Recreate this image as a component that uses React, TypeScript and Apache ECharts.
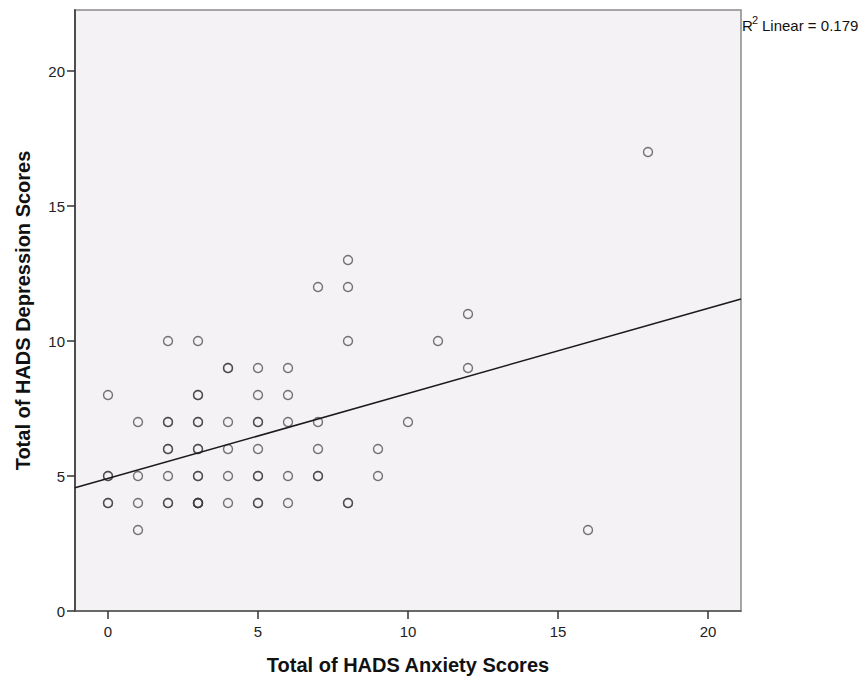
import React, { useEffect, useRef } from "react";
import * as echarts from "echarts";

// Each entry is one participant (repeated entries = overlapping points)
const anxiety: number[] = [
  0, 0, 0, 0, 0,
  1, 1, 1, 1,
  2, 2, 2, 2, 2, 2, 2, 2,
  3, 3, 3, 3, 3, 3, 3, 3, 3, 3, 3, 3, 3,
  4, 4, 4, 4, 4, 4,
  5, 5, 5, 5, 5, 5, 5, 5, 5,
  6, 6, 6, 6, 6,
  7, 7, 7, 7, 7,
  8, 8, 8, 8, 8,
  9, 9,
  10,
  11,
  12, 12,
  16,
  18,
];
const depression: number[] = [
  8, 5, 5, 4, 4,
  7, 5, 4, 3,
  10, 7, 7, 6, 6, 5, 4, 4,
  10, 8, 8, 7, 7, 6, 6, 5, 5, 4, 4, 4, 4,
  9, 9, 7, 6, 5, 4,
  9, 8, 7, 7, 6, 5, 5, 4, 4,
  9, 8, 7, 5, 4,
  12, 7, 6, 5, 5,
  13, 12, 10, 4, 4,
  6, 5,
  7,
  10,
  11, 9,
  3,
  17,
];

const xTicks: number[] = [0, 5, 10, 15, 20];
const yTicks: number[] = [0, 5, 10, 15, 20];
const xRange: number[] = [-1.1, 21.1];
const yRange: number[] = [0, 22.26];

// Fit line
const fitIntercept = 4.91;
const fitSlope = 0.315;
const rSquared = "0.179";

export default function App() {
  const ref = useRef<HTMLDivElement>(null);
  useEffect(() => {
    if (!ref.current) return;
    const chart = echarts.init(ref.current, null, { renderer: "svg" });
    const points = anxiety.map((x, i) => [x, depression[i]]);
    const lineData = xRange.map((x) => [x, fitIntercept + fitSlope * x]);
    const font = '"Liberation Sans", Arial, sans-serif';
    chart.setOption({
      animation: false,
      backgroundColor: "#ffffff",
      grid: {
        left: 75,
        top: 10,
        width: 666,
        height: 601,
        show: true,
        backgroundColor: "#F5F2F5",
        borderColor: "#8a8a8a",
        borderWidth: 1.5,
      },
      xAxis: {
        type: "value",
        min: xRange[0],
        max: xRange[1],
        name: "Total of HADS Anxiety Scores",
        nameLocation: "middle",
        nameGap: 44,
        nameTextStyle: {
          fontFamily: font,
          fontWeight: "bold",
          fontSize: 20,
          color: "#111",
        },
        axisLine: { show: true, onZero: false, lineStyle: { color: "#555", width: 1.5 } },
        axisTick: {
          show: true,
          length: 8,
          customValues: xTicks,
          lineStyle: { color: "#333", width: 1.5 },
        },
        axisLabel: {
          customValues: xTicks,
          fontFamily: font,
          fontSize: 15,
          color: "#222",
          margin: 13,
        },
        splitLine: { show: false },
      },
      yAxis: {
        type: "value",
        min: yRange[0],
        max: yRange[1],
        name: "Total of HADS Depression Scores",
        nameLocation: "middle",
        nameGap: 42,
        nameTextStyle: {
          fontFamily: font,
          fontWeight: "bold",
          fontSize: 20,
          color: "#111",
        },
        axisLine: { show: true, onZero: false, lineStyle: { color: "#444", width: 1.8 } },
        axisTick: {
          show: true,
          length: 8,
          customValues: yTicks,
          lineStyle: { color: "#333", width: 1.5 },
        },
        axisLabel: {
          customValues: yTicks,
          fontFamily: font,
          fontSize: 15,
          color: "#222",
          margin: 10,
        },
        splitLine: { show: false },
      },
      series: [
        {
          type: "scatter",
          data: points,
          symbol: "circle",
          symbolSize: 9,
          itemStyle: {
            color: "rgba(0,0,0,0)",
            borderColor: "#3a3a3a",
            borderWidth: 1.4,
            opacity: 0.7,
          },
          z: 3,
        },
        {
          type: "line",
          data: lineData,
          symbol: "none",
          lineStyle: { color: "#1a1a1a", width: 1.6 },
          z: 4,
        },
      ],
      graphic: [
        {
          type: "text",
          left: 742,
          top: 18,
          style: { text: "R", font: '15px "Liberation Sans", Arial, sans-serif', fill: "#111" },
        },
        {
          type: "text",
          left: 752,
          top: 14,
          style: { text: "2", font: '11px "Liberation Sans", Arial, sans-serif', fill: "#111" },
        },
        {
          type: "text",
          left: 762,
          top: 18,
          style: {
            text: "Linear = " + rSquared,
            font: '15px "Liberation Sans", Arial, sans-serif',
            fill: "#111",
          },
        },
      ],
    });
    return () => chart.dispose();
  }, []);
  return (
    <div
      ref={ref}
      style={{ position: "absolute", left: 0, top: 0, width: 865, height: 684 }}
    />
  );
}
